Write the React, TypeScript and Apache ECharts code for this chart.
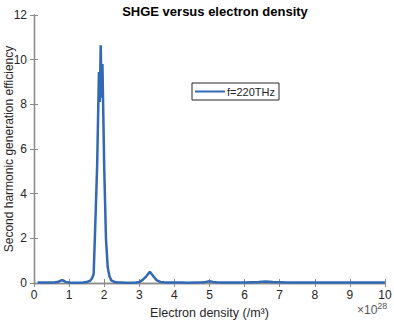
import React, { useEffect, useRef } from "react";
import * as echarts from "echarts";

const density = [
  0.1, 0.2, 0.3, 0.4, 0.5, 0.6, 0.7, 0.75, 0.8, 0.85, 0.9, 1.0, 1.1, 1.2, 1.3, 1.4, 1.5, 1.6, 1.65,
  1.7, 1.75, 1.8, 1.85, 1.875, 1.9, 1.925, 1.95, 2.0, 2.05, 2.1, 2.15, 2.2, 2.3, 2.4, 2.5, 2.6, 2.7,
  2.8, 2.9, 3.0, 3.1, 3.2, 3.3, 3.4, 3.5, 3.6, 3.7, 3.8, 4.0, 4.2, 4.4, 4.6, 4.8, 4.9, 5.0, 5.1, 5.2,
  5.4, 5.6, 5.8, 6.0, 6.2, 6.4, 6.5, 6.6, 6.7, 6.8, 7.0, 7.2, 7.4, 7.6, 7.8, 8.0, 8.2, 8.4, 8.6, 8.8,
  9.0, 9.2, 9.4, 9.6, 9.8, 10.0,
];
const efficiency = [
  0.02, 0.02, 0.02, 0.02, 0.02, 0.03, 0.06, 0.1, 0.13, 0.1, 0.04, 0.02, 0.01, 0.01, 0.01, 0.02, 0.04, 0.1, 0.2,
  0.4, 2.8, 5.3, 9.45, 8.1, 10.65, 8.3, 9.8, 5.2, 2.0, 0.7, 0.3, 0.12, 0.04, 0.02, 0.02, 0.01, 0.01,
  0.01, 0.02, 0.04, 0.15, 0.3, 0.5, 0.3, 0.12, 0.05, 0.03, 0.02, 0.02, 0.02, 0.01, 0.02, 0.03, 0.05, 0.08, 0.05, 0.03,
  0.02, 0.02, 0.02, 0.02, 0.03, 0.04, 0.06, 0.07, 0.06, 0.04, 0.03, 0.02, 0.02, 0.02, 0.02, 0.02, 0.02, 0.02, 0.02, 0.02,
  0.02, 0.02, 0.02, 0.02, 0.02, 0.02,
];
const xTicks = [0, 1, 2, 3, 4, 5, 6, 7, 8, 9, 10];
const yTicks = [0, 2, 4, 6, 8, 10, 12];
const seriesName = "f=220THz";

export default function App() {
  const ref = useRef<HTMLDivElement>(null);
  useEffect(() => {
    const chart = echarts.init(ref.current!, null, { renderer: "svg" });
    const textColor = "#262626";
    const axisLine = { show: true, lineStyle: { color: "#8c8c8c", width: 1.3 } };
    const tickStyle = { show: true, inside: true, length: 4, lineStyle: { color: "#8c8c8c" } };
    const font = "Liberation Sans, Arial, sans-serif";
    chart.setOption({
      animation: false,
      backgroundColor: "#ffffff",
      title: {
        text: "SHGE versus electron density",
        left: 210,
        top: 0,
        textAlign: "center",
        textStyle: { fontSize: 13, fontWeight: "bold", color: "#000", fontFamily: font },
      },
      grid: { left: 34, right: 9, top: 15, bottom: 38, show: false, outerBoundsMode: "none", containLabel: false },
      legend: {
        show: true,
        left: 192,
        top: 83,
        itemWidth: 30,
        itemHeight: 2,
        itemGap: 2,
        padding: [3, 4, 3, 3],
        borderColor: "#262626",
        borderWidth: 1,
        backgroundColor: "#fff",
        borderRadius: 0,
        icon: "rect",
        textStyle: { fontSize: 11, color: textColor, fontFamily: font, padding: [0, 0, 0, -3] },
        data: [{ name: seriesName, icon: "rect" }],
      },
      xAxis: [
        {
          type: "value",
          min: 0,
          max: 10,
          interval: 1,
          axisLine,
          axisTick: tickStyle,
          splitLine: { show: false },
          axisLabel: { fontSize: 12, color: textColor, fontFamily: font, margin: 6, formatter: (v: number) => (xTicks.includes(v) ? String(v) : "") },
          name: "Electron density (/m³)",
          nameLocation: "middle",
          nameGap: 23,
          nameMoveOverlap: false,
          nameTextStyle: { fontSize: 12.5, color: textColor, fontFamily: font },
        },
        {
          type: "value",
          position: "top",
          min: 0,
          max: 10,
          interval: 1,
          axisLine,
          axisTick: tickStyle,
          axisLabel: { show: false },
          splitLine: { show: false },
        },
      ],
      yAxis: [
        {
          type: "value",
          min: 0,
          max: 12,
          interval: 2,
          axisLine,
          axisTick: tickStyle,
          splitLine: { show: false },
          axisLabel: { fontSize: 12, color: textColor, fontFamily: font, margin: 7, formatter: (v: number) => (yTicks.includes(v) ? String(v) : "") },
          name: "Second harmonic generation efficiency",
          nameLocation: "middle",
          nameGap: 19,
          nameMoveOverlap: false,
          nameTextStyle: { fontSize: 12, color: textColor, fontFamily: font },
        },
        {
          type: "value",
          position: "right",
          min: 0,
          max: 12,
          interval: 2,
          axisLine,
          axisTick: tickStyle,
          axisLabel: { show: false },
          splitLine: { show: false },
        },
      ],
      graphic: [
        {
          type: "text",
          left: 357,
          top: 301,
          style: {
            text: "{a|×10}{b|28}",
            rich: {
              a: { fontSize: 12, fill: "#555", fontFamily: font, padding: [5, 0, 0, 0] },
              b: { fontSize: 9, fill: "#555", fontFamily: font, padding: [0, 0, 3, 0] },
            },
          },
        },
      ],
      series: [
        {
          name: seriesName,
          type: "line",
          xAxisIndex: 0,
          yAxisIndex: 0,
          data: density.map((d, i) => [d, efficiency[i]]),
          showSymbol: false,
          symbol: "none",
          lineStyle: { color: "#3169B5", width: 2.5 },
          itemStyle: { color: "#3169B5" },
        },
      ],
    });
    return () => chart.dispose();
  }, []);
  return <div ref={ref} style={{ width: 394, height: 321, position: "absolute", left: 0, top: 0 }} />;
}
